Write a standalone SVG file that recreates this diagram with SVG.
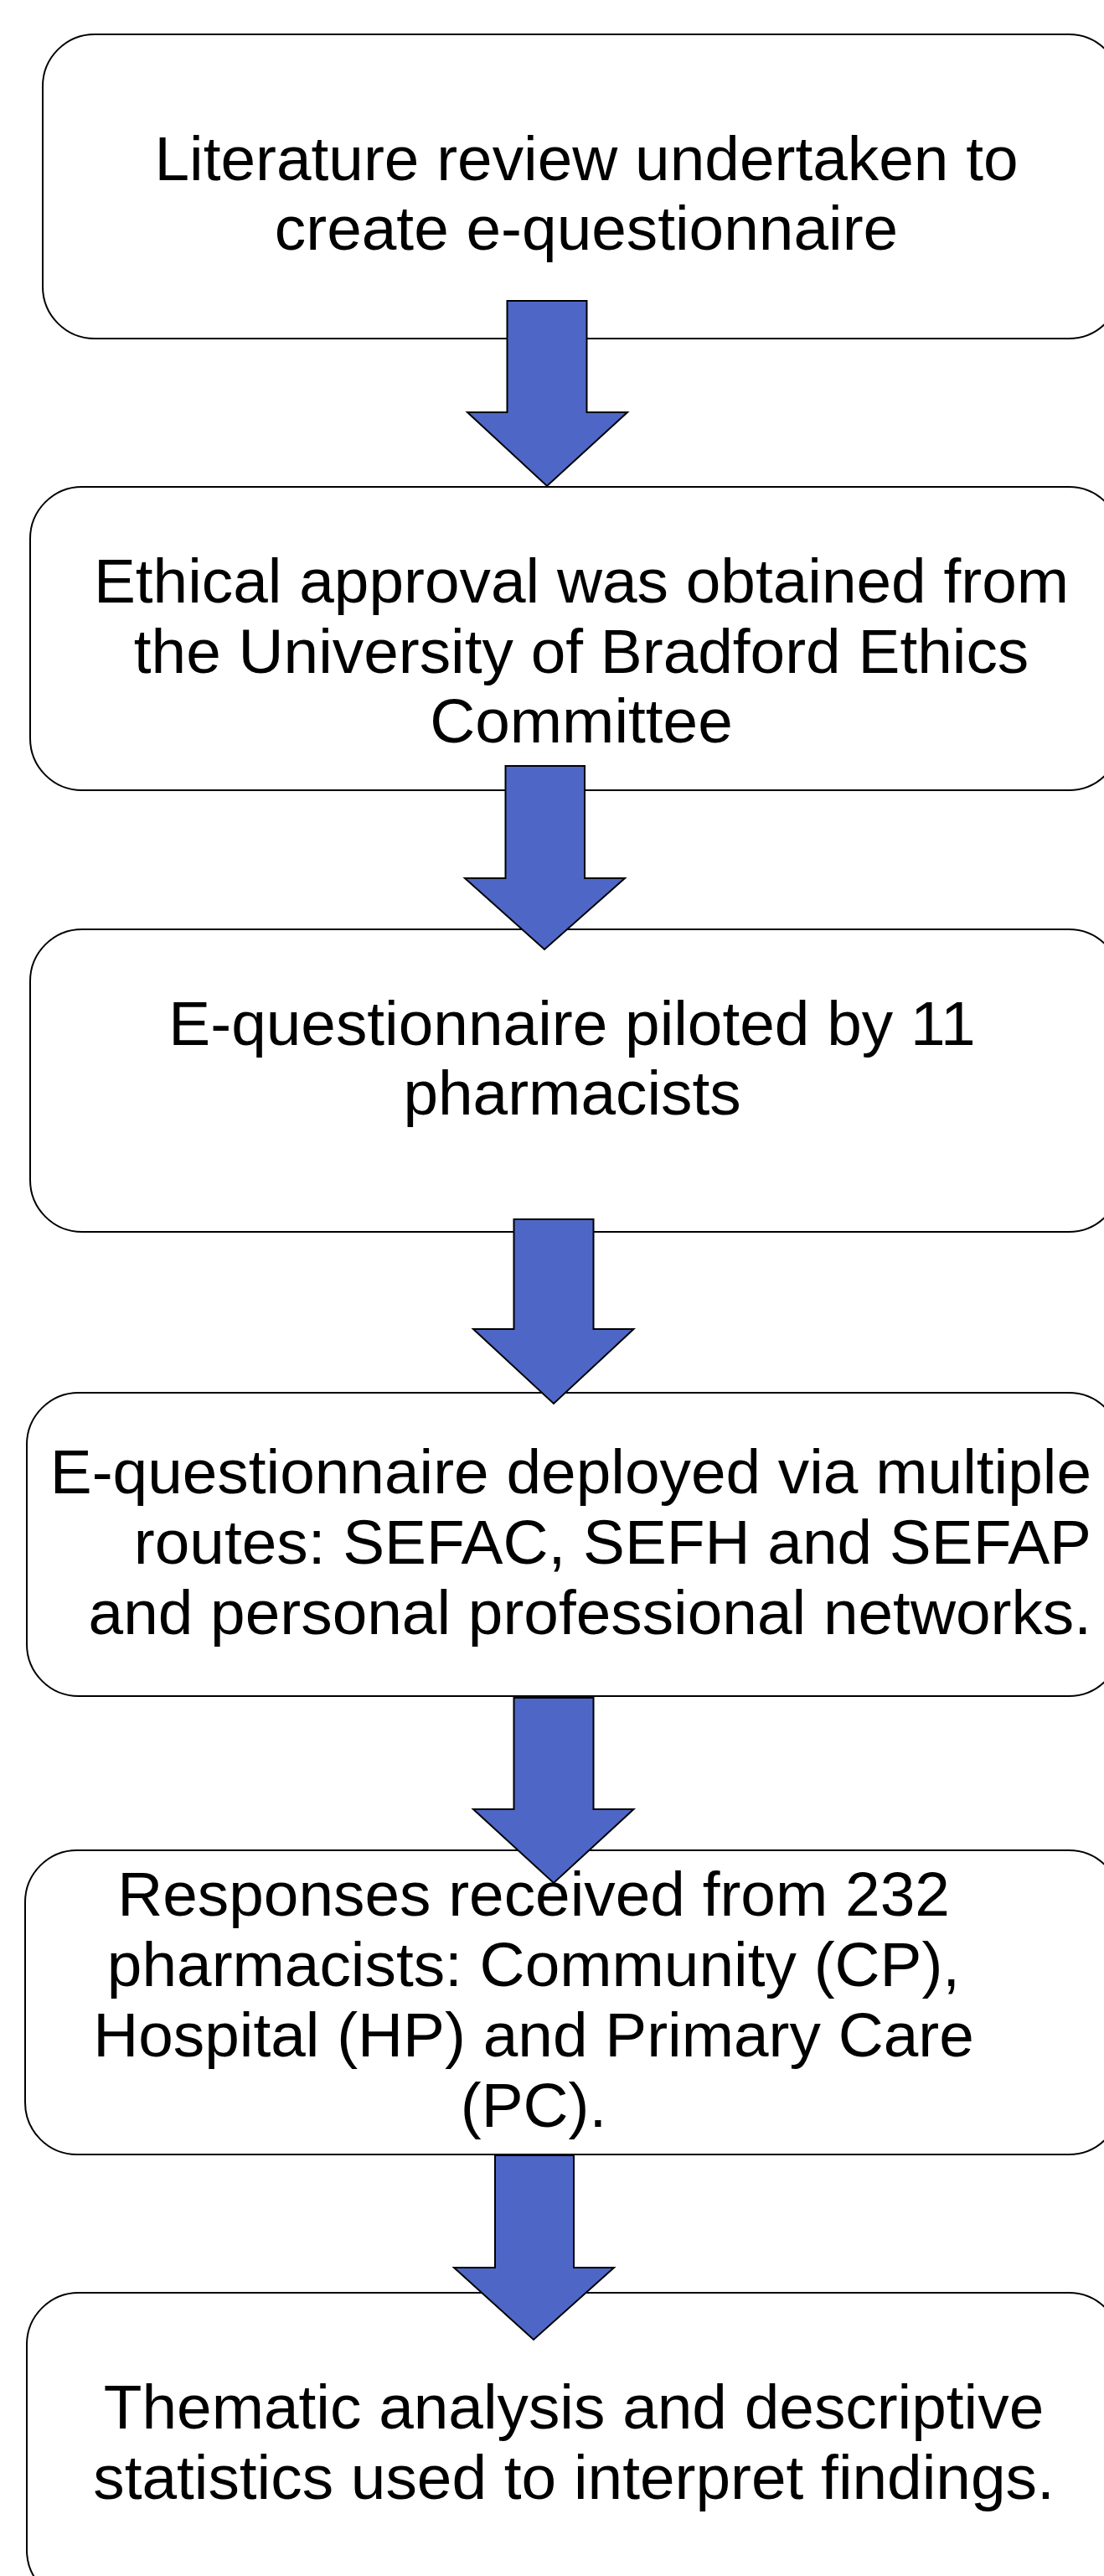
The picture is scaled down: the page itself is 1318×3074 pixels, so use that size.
<svg xmlns="http://www.w3.org/2000/svg" width="1318" height="3074" viewBox="0 0 1318 3074">
<style>
.box{fill:#ffffff;stroke:#000000;stroke-width:2}
.arrow{fill:#4E67C6;stroke:#000000;stroke-width:2;stroke-linejoin:miter}
.t{font-family:"Liberation Sans",Arial,sans-serif;font-size:74.8px;fill:#000000;text-anchor:middle}
.r{text-anchor:end}
</style>
<rect x="0" y="0" width="1318" height="3074" fill="#ffffff"/>
<g id="node1">
<rect class="box" x="51" y="41" width="1287" height="363" rx="62" ry="62"/>
<text class="t" x="700" y="215">Literature review undertaken to</text>
<text class="t" x="700" y="298">create e-questionnaire</text>
</g>
<g id="node2">
<rect class="box" x="36" y="581" width="1302" height="362" rx="62" ry="62"/>
<text class="t" x="694" y="719">Ethical approval was obtained from</text>
<text class="t" x="694" y="803">the University of Bradford Ethics</text>
<text class="t" x="694" y="886">Committee</text>
</g>
<g id="node3">
<rect class="box" x="36" y="1109" width="1302" height="361" rx="62" ry="62"/>
<text class="t" x="683" y="1247">E-questionnaire piloted by 11</text>
<text class="t" x="683" y="1330">pharmacists</text>
</g>
<g id="node4">
<rect class="box" x="32" y="1662" width="1306" height="362" rx="62" ry="62"/>
<text class="t r" x="1303" y="1782">E-questionnaire deployed via multiple</text>
<text class="t r" x="1303" y="1866">routes: SEFAC, SEFH and SEFAP</text>
<text class="t r" x="1303" y="1950">and personal professional networks.</text>
</g>
<g id="node5">
<rect class="box" x="30" y="2208" width="1308" height="363" rx="62" ry="62"/>
<text class="t" x="637" y="2286">Responses received from 232</text>
<text class="t" x="637" y="2370">pharmacists: Community (CP),</text>
<text class="t" x="637" y="2454">Hospital (HP) and Primary Care</text>
<text class="t" x="637" y="2538">(PC).</text>
</g>
<g id="node6">
<rect class="box" x="32" y="2736" width="1306" height="369" rx="62" ry="62"/>
<text class="t" x="685" y="2898">Thematic analysis and descriptive</text>
<text class="t" x="685" y="2982">statistics used to interpret findings.</text>
</g>
<g id="connectors">
<polygon class="arrow" points="605.5,359 700.5,359 700.5,492 749,492 653,580 558,492 605.5,492"/>
<polygon class="arrow" points="603.5,914 698,914 698,1048 746,1048 650,1133 555,1048 603.5,1048"/>
<polygon class="arrow" points="613.5,1455 708.5,1455 708.5,1586 756.5,1586 661,1675 565,1586 613.5,1586"/>
<polygon class="arrow" points="613.5,2026 708.5,2026 708.5,2159 756.5,2159 661,2247 565,2159 613.5,2159"/>
<polygon class="arrow" points="591,2572 685,2572 685,2706 733,2706 637,2792 542,2706 591,2706"/>
</g>
</svg>
